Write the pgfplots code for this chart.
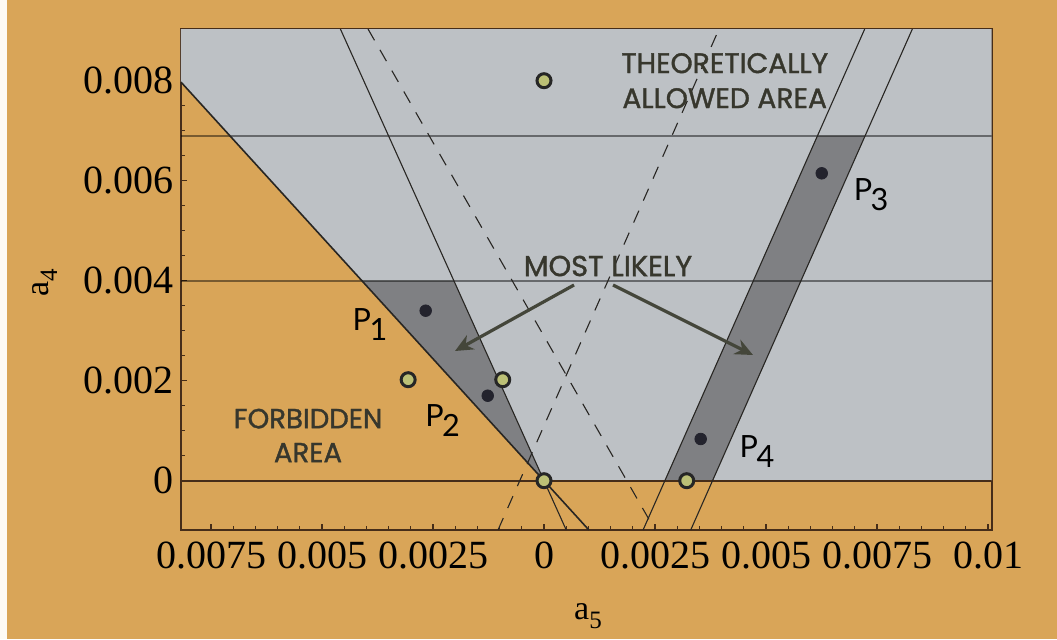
\documentclass[border=0pt]{standalone}
\usepackage{pgfplots}
\pgfplotsset{compat=1.18}
\usepackage{fontspec}
\setmainfont{Liberation Serif}
\newfontfamily\chalk[FakeBold=1.3]{Poppins}
\newfontfamily\gill{Lato}
\usetikzlibrary{arrows.meta}
\definecolor{bgorange}{RGB}{217,165,88}
\definecolor{allowgray}{RGB}{189,193,197}
\definecolor{bandgray}{RGB}{127,128,131}
\definecolor{frameC}{RGB}{70,45,25}
\definecolor{lineC}{RGB}{40,38,35}
\definecolor{dotC}{RGB}{35,35,45}
\definecolor{greenfill}{RGB}{188,192,118}
\definecolor{txtC}{RGB}{55,55,45}
\definecolor{arrowC}{RGB}{68,70,58}
\newcommand{\plab}[1]{P\kern-0.8pt\raisebox{-5pt}{#1}}
\begin{document}
\begin{tikzpicture}
\useasboundingbox (0,0) rectangle (528.5pt,319.5pt);
\fill[bgorange] (0,0) rectangle (528.5pt,319.5pt);
\fill[white!94!bgorange] (0,0) rectangle (3.5pt,319.5pt);
\begin{axis}[
  at={(90.5pt,54.5pt)}, anchor=south west,
  scale only axis, width=405.35pt, height=250.5pt,
  xmin=-8.176, xmax=10.083, ymin=-0.986, ymax=9.034,
  axis line style={frameC, line width=0.9pt},
  tick align=inside,
  major tick length=3pt, minor tick length=2pt,
  tick style={frameC, line width=0.6pt},
  xtick={-7.5,-5,-2.5,0,2.5,5,7.5,10},
  xticklabels={0.0075,0.005,0.0025,0,0.0025,0.005,0.0075,0.01},
  ytick={0,2,4,6,8},
  yticklabels={0,0.002,0.004,0.006,0.008},
  minor x tick num=4, minor y tick num=3,
  ticklabel style={font=\fontsize{20}{20}\selectfont, text=black},
  xticklabel style={yshift=-2.3pt},
  xlabel={\fontsize{17}{17}\selectfont a\raisebox{-0.25em}{\fontsize{12.5}{12.5}\selectfont 5}},
  xlabel style={at={(axis description cs:0.502,-0.1796)}, anchor=base},
  clip mode=individual,
]
% theoretically allowed area
\addplot[fill=allowgray, draw=none] coordinates {(-8.176,7.972) (-8.176,9.034) (10.083,9.034) (10.083,0) (0,0)} -- cycle;
% most likely regions
\addplot[fill=bandgray, draw=none] coordinates {(-4.103,4) (-2.030,4) (0,0)} -- cycle;
\addplot[fill=bandgray, draw=none] coordinates {(2.722,0) (3.795,0) (7.233,6.9) (6.160,6.9)} -- cycle;
% horizontal lines
\addplot[black, opacity=0.45, line width=0.9pt] coordinates {(-8.176,4) (10.083,4)};
\addplot[black, opacity=0.45, line width=0.9pt] coordinates {(-8.176,6.9) (10.083,6.9)};
\addplot[frameC, line width=0.9pt] coordinates {(-8.176,0) (10.083,0)};
% solid lines
\addplot[lineC, line width=0.8pt] coordinates {(-8.176,7.972) (1.011,-0.986)};
\addplot[lineC, line width=0.55pt] coordinates {(-4.586,9.034) (0.5005,-0.986)};
\addplot[lineC, line width=0.55pt] coordinates {(2.231,-0.986) (7.223,9.034)};
\addplot[lineC, line width=0.55pt] coordinates {(3.304,-0.986) (8.296,9.034)};
% dashed lines
\addplot[lineC, line width=0.55pt, dash pattern=on 6.5pt off 5.5pt] coordinates {(-3.964,9.034) (2.501,-0.986)};
\addplot[lineC, line width=0.55pt, dash pattern=on 6.5pt off 5.5pt] coordinates {(-1.036,-0.986) (3.942,9.034)};
% arrows
\draw[arrowC, line width=1.6pt, -{Stealth[length=9pt,width=8pt]}] (axis cs:0.676,3.914) -- (axis cs:-2.005,2.594);
\draw[arrowC, line width=1.6pt, -{Stealth[length=9pt,width=8pt]}] (axis cs:1.554,3.914) -- (axis cs:4.707,2.514);
% points
\addplot[only marks, mark=*, mark size=2.9pt, color=dotC] coordinates {(-2.665,3.40) (-1.268,1.70) (6.255,6.148) (3.529,0.834)};
\addplot[only marks, mark=*, mark size=3.5pt, mark options={fill=greenfill, draw=black!85, line width=1.5pt}] coordinates {(0,8) (-3.06,2.02) (-0.93,2.02) (0,0) (3.214,0)};
% texts
\node[font=\chalk\fontsize{14.1}{17.5}\selectfont, text=txtC, align=center, inner sep=0] at (axis cs:4.07,8.0) {THEORETICALLY\\ALLOWED AREA};
\node[font=\chalk\fontsize{14.4}{14.4}\selectfont, text=txtC, inner sep=0] at (axis cs:1.441,4.294) {MOST LIKELY};
\node[font=\chalk\fontsize{13.8}{17}\selectfont, text=txtC, align=center, inner sep=0] at (axis cs:-5.315,0.904) {FORBIDDEN\\AREA};
\node[font=\gill\fontsize{15.3}{15.3}\selectfont, inner sep=0] at (axis cs:-3.919,3.114) {\plab{1}};
\node[font=\gill\fontsize{15.3}{15.3}\selectfont, inner sep=0] at (axis cs:-2.286,1.194) {\plab{2}};
\node[font=\gill\fontsize{15.3}{15.3}\selectfont, inner sep=0] at (axis cs:7.365,5.714) {\plab{3}};
\node[font=\gill\fontsize{15.3}{15.3}\selectfont, inner sep=0] at (axis cs:4.797,0.574) {\plab{4}};
% y axis label
\node[rotate=90, anchor=center, inner sep=0] at (axis description cs:-0.168,0.493) {\fontsize{17}{17}\selectfont a\raisebox{-0.25em}{\fontsize{12.5}{12.5}\selectfont 4}};
\end{axis}
\end{tikzpicture}
\end{document}
